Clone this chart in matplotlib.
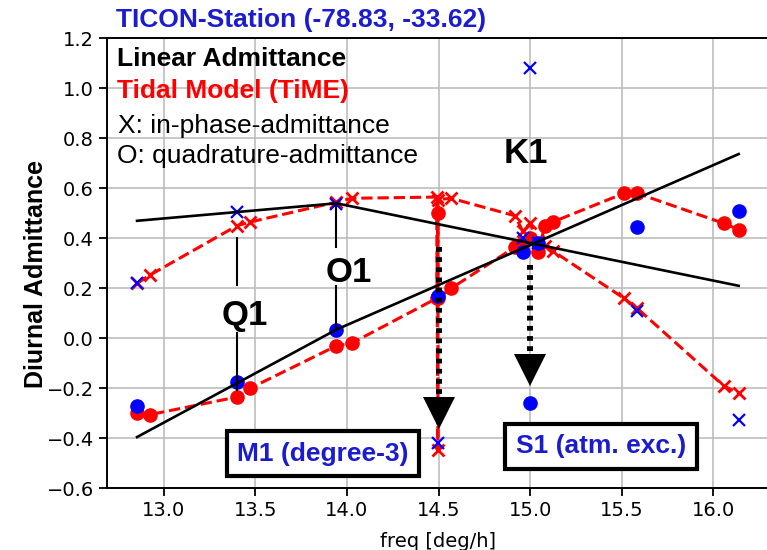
import matplotlib
matplotlib.use('Agg')
import matplotlib.pyplot as plt
from matplotlib.transforms import offset_copy

# ---------------- data ----------------
# observed (TICON station) constituents
obs_freq = [12.854, 13.399, 13.943, 14.497, 14.959, 15.000, 15.041, 15.585, 16.139]
obs_inphase = [0.222, 0.505, 0.537, -0.417, 0.40, 1.08, 0.38, 0.11, -0.325]
obs_quad = [-0.27, -0.175, 0.035, 0.17, 0.345, -0.26, 0.38, 0.445, 0.51]

# tidal model (TiME) constituents
model_freq = [12.854, 12.927, 13.399, 13.471, 13.943, 14.025, 14.490, 14.4967, 14.4967,
              14.569, 14.918, 14.959, 15.000, 15.041, 15.082, 15.123, 15.513, 15.585,
              16.057, 16.139]
model_inphase = [0.22, 0.254, 0.45, 0.465, 0.545, 0.56, 0.565, -0.445, 0.555,
                 0.56, 0.49, 0.43, 0.46, 0.39, 0.37, 0.35, 0.16, 0.12,
                 -0.19, -0.22]
model_quad = [-0.30, -0.305, -0.235, -0.20, -0.03, -0.02, 0.16, 0.50, 0.16,
              0.20, 0.365, 0.38, 0.40, 0.345, 0.45, 0.465, 0.58, 0.58,
              0.46, 0.435]

# linear admittance (piecewise linear through Q1-O1 and O1-K1)
lin_freq = [12.854, 13.943, 16.139]
lin_inphase = [0.47, 0.54, 0.21]
lin_quad = [-0.395, 0.035, 0.737]

# constituent labels
lab_names = ['Q1', 'O1', 'K1']
lab_x = [13.44, 14.01, 14.978]
lab_y = [0.093, 0.265, 0.74]
# connector segments (freq, y_from, y_to)
seg_x = [13.399, 13.399, 13.943, 13.943]
seg_y0 = [0.40, 0.02, 0.54, 0.21]
seg_y1 = [0.215, -0.205, 0.365, 0.04]

# dotted arrows
arrow_x = [14.5, 15.0]
arrow_start = [0.365, 0.295]
arrow_tip = [-0.36, -0.187]

# boxes
box_text = ['M1 (degree-3)', 'S1 (atm. exc.)']
box_x = [13.87, 15.387]
box_y = [-0.462, -0.432]

xticks = [13.0, 13.5, 14.0, 14.5, 15.0, 15.5, 16.0]
yticks = [-0.6, -0.4, -0.2, 0.0, 0.2, 0.4, 0.6, 0.8, 1.0, 1.2]

# ---------------- figure ----------------
W, H = 767, 550
fig = plt.figure(figsize=(W / 100, H / 100), dpi=100)
ax = fig.add_axes([107 / W, 1 - 488.3 / H, (770 - 107) / W, 450 / H])
ax.set_xlim(12.69, 16.31)
ax.set_ylim(-0.6, 1.2)
ax.set_xticks(xticks)
ax.set_yticks(yticks)
ax.tick_params(labelsize=14, width=1.3, length=6)
for s in ax.spines.values():
    s.set_linewidth(1.4)
ax.grid(True, color='#bdbdbd', lw=1.2)
ax.set_axisbelow(True)

LIB = 'Liberation Sans'
BLUE_T = '#1c1ccf'

# model
ax.plot(model_freq, model_inphase, ls='--', color='red', lw=2.2, marker='x',
        ms=9, mew=2, zorder=2)
ax.plot(model_freq, model_quad, ls='--', color='red', lw=2.2, marker='o',
        ms=9.5, zorder=2)
# observations
ax.plot(obs_freq, obs_inphase, ls='none', color='blue', marker='x', ms=8.5,
        mew=1.6, zorder=3)
ax.plot(obs_freq, obs_quad, ls='none', color='blue', marker='o', ms=9.5, zorder=3)
# linear admittance
ax.plot(lin_freq, lin_inphase, color='black', lw=1.9, zorder=4)
ax.plot(lin_freq, lin_quad, color='black', lw=1.9, zorder=4)

for x, a, b in zip(seg_x, seg_y0, seg_y1):
    ax.plot([x, x], [a, b], color='black', lw=1.5, zorder=4)
for n, x, y in zip(lab_names, lab_x, lab_y):
    ax.text(x, y, n, fontsize=25, fontweight='bold', family=LIB,
            ha='center', va='center', zorder=6)

# dotted arrows
for x, y0, yt in zip(arrow_x, arrow_start, arrow_tip):
    d = ax.transData.transform((x, yt))
    base = ax.transData.inverted().transform((d[0], d[1] + 30))
    ax.plot([x, x], [y0, base[1]], color='black', lw=4.3, dashes=(0.8, 0.9),
            solid_capstyle='butt', dash_capstyle='butt', zorder=5)
    tr = offset_copy(ax.transData, fig=fig, y=15, units='dots')
    ax.plot([x], [yt], marker='v', ms=23, color='black', mew=0,
            transform=tr, zorder=5)

for t, x, y in zip(box_text, box_x, box_y):
    ax.text(x, y, t, fontsize=19, fontweight='bold', family=LIB, color=BLUE_T,
            ha='center', va='center', zorder=7,
            bbox=dict(boxstyle='square,pad=0.4', fc='white', ec='black', lw=3))

# texts
def ft(px, py, s, **kw):
    fig.text(px / W, 1 - py / H, s, va='baseline', ha='left', family=LIB, **kw)

ft(116, 27, 'TICON-Station (-78.83, -33.62)', fontsize=19, fontweight='bold', color=BLUE_T)
ft(117, 66, 'Linear Admittance', fontsize=19, fontweight='bold', color='black')
ft(117, 98, 'Tidal Model (TiME)', fontsize=19, fontweight='bold', color='red')
ft(118, 133, 'X: in-phase-admittance', fontsize=19, color='black')
ft(117, 163, 'O: quadrature-admittance', fontsize=19, color='black')

fig.text(36 / W, 1 - 274 / H, 'Diurnal Admittance', rotation=90, ha='center',
         va='center', fontsize=18, fontweight='bold', family=LIB)
ax.set_xlabel('freq [deg/h]', fontsize=14, labelpad=8)

fig.savefig('out.png', dpi=100)
